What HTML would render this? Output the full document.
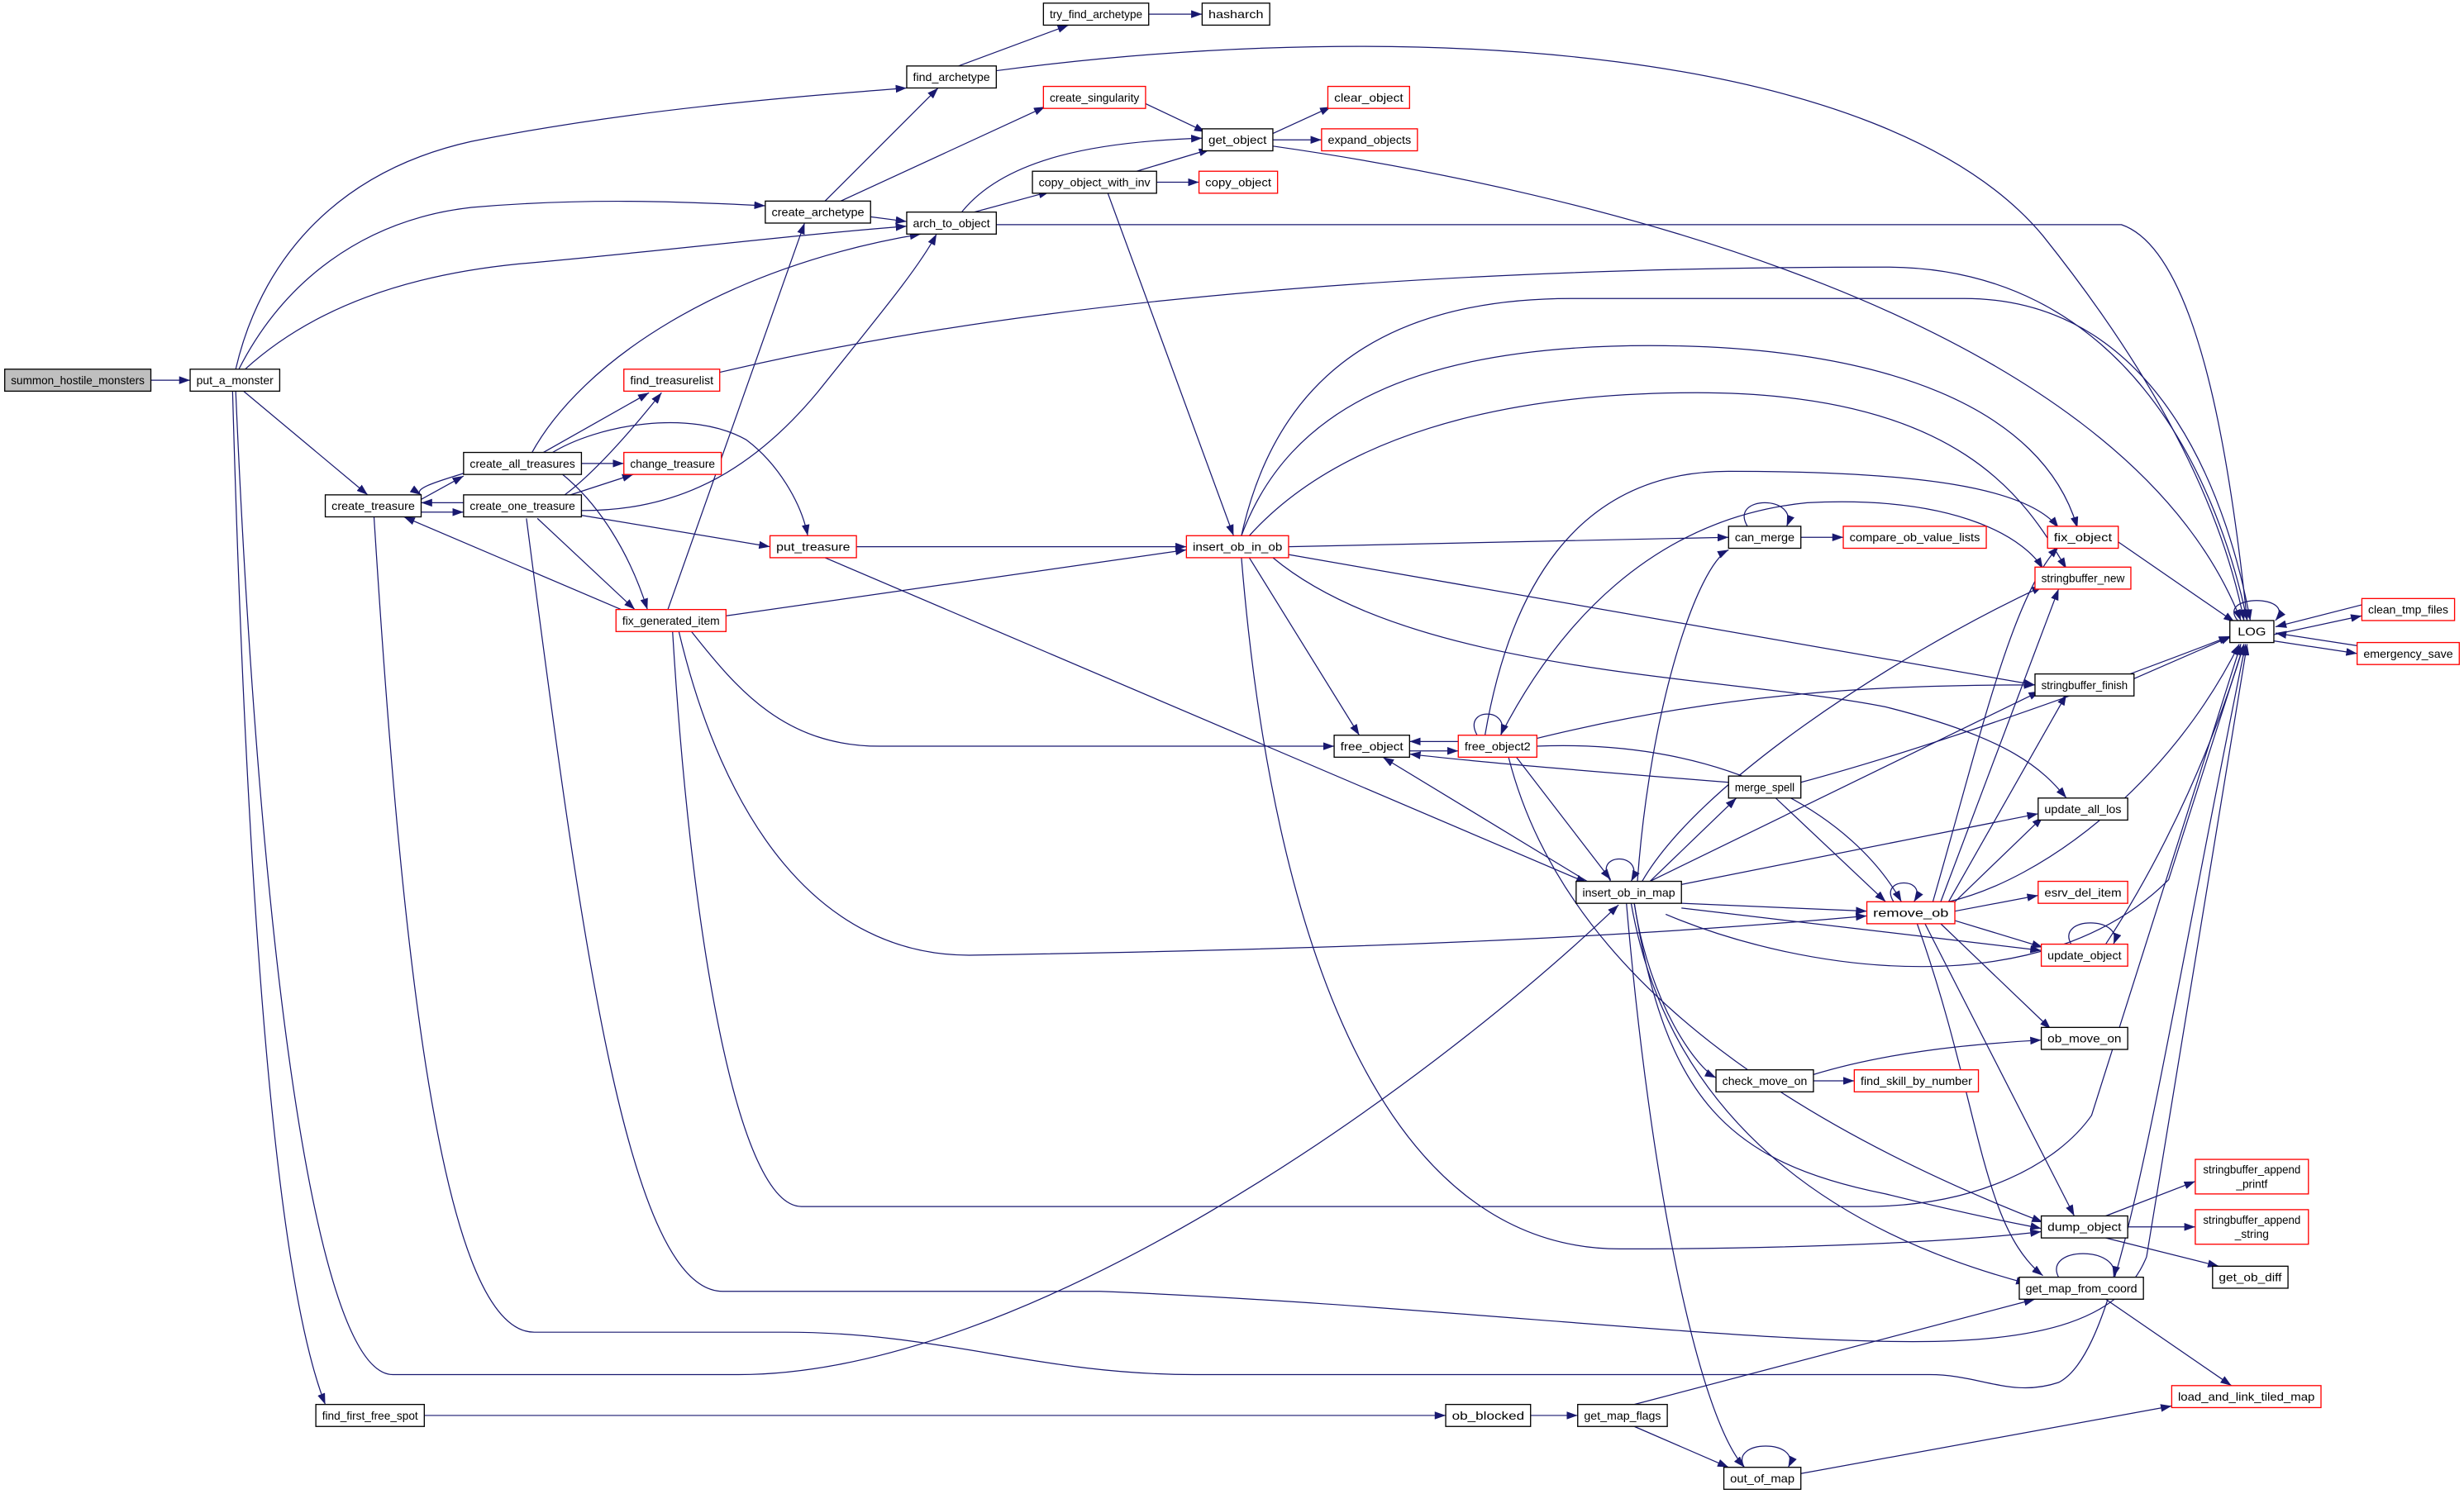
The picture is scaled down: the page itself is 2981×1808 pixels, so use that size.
<!DOCTYPE html>
<html><head><meta charset="utf-8"><style>
html,body{margin:0;padding:0;background:#fff;}
svg{display:block;}
text{font-family:"Liberation Sans",sans-serif;font-size:7.2px;fill:#000;text-anchor:middle;}
.b{fill:#fff;stroke:#000;stroke-width:0.7;}
.r{fill:#fff;stroke:#ff0000;stroke-width:0.7;}
.e{fill:none;stroke:#191970;stroke-width:0.65;marker-end:url(#a);}
</style></head><body>
<svg width="2981" height="1808" viewBox="0 0 1568 951" preserveAspectRatio="none" xmlns="http://www.w3.org/2000/svg">
<defs><marker id="a" markerWidth="7" markerHeight="5" refX="7" refY="2.5" orient="auto" markerUnits="userSpaceOnUse"><path d="M0,0 L7,2.5 L0,5 z" fill="#191970"/></marker></defs>
<g>
<path class="e" d="M96,242 H121"/>
<path class="e" d="M150,235 C165,170 210,110 300,90 C400,70 500,62 577,56"/>
<path class="e" d="M152,235 C180,180 230,140 300,132 C370,126 430,128 487,131"/>
<path class="e" d="M156,235 C200,195 260,175 330,168 C420,160 500,150 577,144"/>
<path class="e" d="M155,249 L234,315"/>
<path class="e" d="M148,249 C155,500 170,800 207,894"/>
<path class="e" d="M150,249 C165,600 200,875 250,875 L470,875 C650,875 900,700 1030,576"/>
<path class="e" d="M238,329 C255,600 280,848 340,848 L500,848 C600,848 660,875 760,875 L1228,875 C1260,875 1280,890 1310,880 C1350,860 1370,700 1429,410"/>
<path class="e" d="M335,330 C370,600 400,822 460,822 L700,822 C900,830 1100,854 1217,854 C1300,854 1350,840 1366,800 L1430,410"/>
<path class="e" d="M428,402 C440,600 470,768 510,768 L1187,768 C1260,768 1310,740 1331,710 L1426,410"/>
<path class="e" d="M266,319 L295,303"/>
<path class="e" d="M296,301 C280,306 262,311 268,315"/>
<path class="e" d="M268,326 H295"/>
<path class="e" d="M295,320 H268"/>
<path class="e" d="M344,289 L413,250"/>
<path class="e" d="M358,316 C380,300 405,270 421,250"/>
<path class="e" d="M370,295 H397"/>
<path class="e" d="M360,316 L403,302"/>
<path class="e" d="M350,289 C380,270 440,260 475,280 C495,295 510,320 514,341"/>
<path class="e" d="M370,328 L490,348"/>
<path class="e" d="M370,325 C420,325 470,310 520,250 C560,200 585,170 596,149"/>
<path class="e" d="M338,289 C370,230 460,170 586,149"/>
<path class="e" d="M358,302 C380,320 400,350 412,388"/>
<path class="e" d="M342,330 L404,388"/>
<path class="e" d="M400,390 L257,329"/>
<path class="e" d="M425,388 L512,142"/>
<path class="e" d="M462,392 L755,350"/>
<path class="e" d="M440,402 C470,440 500,475 560,475 L849,475"/>
<path class="e" d="M432,402 C460,520 520,610 620,608 C800,605 1000,600 1188,583"/>
<path class="e" d="M545,348 H755"/>
<path class="e" d="M525,355 L1010,562"/>
<path class="e" d="M525,128 L597,56"/>
<path class="e" d="M535,128 L665,68"/>
<path class="e" d="M554,138 L577,141"/>
<path class="e" d="M610,42 L680,16"/>
<path class="e" d="M731,9 H765"/>
<path class="e" d="M634,45 C900,10 1200,30 1300,150 C1380,250 1415,330 1428,395"/>
<path class="e" d="M729,66 L767,84"/>
<path class="e" d="M612,135 C640,100 700,90 765,88"/>
<path class="e" d="M620,135 L668,122"/>
<path class="e" d="M720,110 L770,95"/>
<path class="e" d="M736,116 H763"/>
<path class="e" d="M705,123 L785,341"/>
<path class="e" d="M810,85 L847,68"/>
<path class="e" d="M810,89 H841"/>
<path class="e" d="M810,93 C1000,120 1350,200 1426,395"/>
<path class="e" d="M634,143 H1350 C1400,160 1420,300 1430,395"/>
<path class="e" d="M458,237 C700,180 1000,170 1200,170 C1350,170 1410,300 1430,395"/>
<path class="e" d="M790,341 C810,250 870,190 1000,190 L1250,190 C1380,190 1420,330 1432,395"/>
<path class="e" d="M790,341 C820,260 900,220 1050,220 C1200,220 1300,260 1322,336"/>
<path class="e" d="M795,341 C850,280 950,250 1080,250 C1250,250 1290,320 1315,362"/>
<path class="e" d="M820,348 L1100,342"/>
<path class="e" d="M820,353 L1295,436"/>
<path class="e" d="M810,355 C900,430 1100,430 1200,450 C1280,470 1300,490 1315,508"/>
<path class="e" d="M795,355 L865,468"/>
<path class="e" d="M790,355 C810,600 880,795 1031,795 C1150,795 1250,790 1299,784"/>
<path class="e" d="M1112,335 C1100,315 1145,315 1137,335"/>
<path class="e" d="M1146,342 H1173"/>
<path class="e" d="M928,472 H897"/>
<path class="e" d="M897,478 H928"/>
<path class="e" d="M940,468 C930,450 962,450 955,468"/>
<path class="e" d="M955,468 C990,400 1050,330 1150,320 C1250,315 1290,345 1300,362"/>
<path class="e" d="M945,468 C960,380 1000,300 1100,300 C1220,300 1290,310 1310,336"/>
<path class="e" d="M978,470 C1100,440 1200,436 1295,436"/>
<path class="e" d="M978,475 C1100,470 1180,520 1210,574"/>
<path class="e" d="M965,482 L1025,560"/>
<path class="e" d="M960,482 C990,600 1100,700 1300,778"/>
<path class="e" d="M1100,498 C1000,490 940,485 897,480"/>
<path class="e" d="M1146,498 C1250,470 1380,420 1419,405"/>
<path class="e" d="M1130,508 L1200,574"/>
<path class="e" d="M1050,561 L1105,508"/>
<path class="e" d="M1042,561 C1050,450 1080,360 1100,350"/>
<path class="e" d="M1010,561 L880,482"/>
<path class="e" d="M1025,561 C1012,542 1048,542 1038,561"/>
<path class="e" d="M1045,561 C1080,500 1200,420 1300,373"/>
<path class="e" d="M1050,561 L1298,440"/>
<path class="e" d="M1070,563 L1297,518"/>
<path class="e" d="M1070,575 L1188,580"/>
<path class="e" d="M1070,578 L1299,605"/>
<path class="e" d="M1060,582 C1150,620 1300,640 1380,560 L1428,410"/>
<path class="e" d="M1040,575 C1050,640 1080,680 1092,686"/>
<path class="e" d="M1040,575 C1060,700 1100,740 1200,760 C1260,775 1290,780 1299,782"/>
<path class="e" d="M1038,575 C1060,700 1150,780 1290,817"/>
<path class="e" d="M1035,575 C1050,750 1080,900 1110,934"/>
<path class="e" d="M1230,574 C1260,470 1280,380 1310,348"/>
<path class="e" d="M1235,574 L1310,375"/>
<path class="e" d="M1240,574 L1315,442"/>
<path class="e" d="M1244,574 L1300,520"/>
<path class="e" d="M1244,580 L1297,570"/>
<path class="e" d="M1244,586 L1300,603"/>
<path class="e" d="M1240,574 C1300,560 1380,500 1425,410"/>
<path class="e" d="M1205,574 C1195,558 1228,558 1218,574"/>
<path class="e" d="M1235,588 L1305,655"/>
<path class="e" d="M1225,588 L1320,774"/>
<path class="e" d="M1220,588 C1260,700 1260,780 1300,812"/>
<path class="e" d="M1318,601 C1308,583 1352,583 1345,601"/>
<path class="e" d="M1340,601 C1380,540 1410,470 1428,410"/>
<path class="e" d="M1154,684 C1200,670 1250,665 1299,662"/>
<path class="e" d="M1154,688 H1180"/>
<path class="e" d="M1340,774 L1397,752"/>
<path class="e" d="M1354,781 H1397"/>
<path class="e" d="M1340,788 L1412,806"/>
<path class="e" d="M1310,813 C1300,793 1350,793 1345,813"/>
<path class="e" d="M1340,827 L1420,882"/>
<path class="e" d="M270,901 H920"/>
<path class="e" d="M974,901 H1004"/>
<path class="e" d="M1040,894 L1295,827"/>
<path class="e" d="M1040,908 L1100,934"/>
<path class="e" d="M1110,934 C1100,916 1147,916 1138,934"/>
<path class="e" d="M1146,938 L1382,895"/>
<path class="e" d="M1348,345 L1422,396"/>
<path class="e" d="M1358,432 L1420,405"/>
<path class="e" d="M1424,395 C1410,378 1462,378 1448,395"/>
<path class="e" d="M1447,404 L1503,392"/>
<path class="e" d="M1503,385 L1448,399"/>
<path class="e" d="M1447,408 L1500,416"/>
<path class="e" d="M1500,411 L1448,403"/>
</g>
<g>
<rect x="3" y="235" width="93" height="14" fill="#bfbfbf" stroke="#000" stroke-width="0.7"/><text x="49.5" y="244.6" textLength="85" lengthAdjust="spacingAndGlyphs">summon_hostile_monsters</text>
<rect class="b" x="121" y="235" width="57" height="14"/><text x="149.5" y="244.6" textLength="49" lengthAdjust="spacingAndGlyphs">put_a_monster</text>
<rect class="b" x="664" y="2" width="67" height="14"/><text x="697.5" y="11.6" textLength="59" lengthAdjust="spacingAndGlyphs">try_find_archetype</text>
<rect class="b" x="765" y="2" width="43" height="14"/><text x="786.5" y="11.6" textLength="35" lengthAdjust="spacingAndGlyphs">hasharch</text>
<rect class="b" x="577" y="42" width="57" height="14"/><text x="605.5" y="51.6" textLength="49" lengthAdjust="spacingAndGlyphs">find_archetype</text>
<rect class="r" x="664" y="55" width="65" height="14"/><text x="696.5" y="64.6" textLength="57" lengthAdjust="spacingAndGlyphs">create_singularity</text>
<rect class="r" x="845" y="55" width="52" height="14"/><text x="871" y="64.6" textLength="44" lengthAdjust="spacingAndGlyphs">clear_object</text>
<rect class="b" x="765" y="82" width="45" height="14"/><text x="787.5" y="91.6" textLength="37" lengthAdjust="spacingAndGlyphs">get_object</text>
<rect class="r" x="841" y="82" width="61" height="14"/><text x="871.5" y="91.6" textLength="53" lengthAdjust="spacingAndGlyphs">expand_objects</text>
<rect class="b" x="487" y="128" width="67" height="14"/><text x="520.5" y="137.6" textLength="59" lengthAdjust="spacingAndGlyphs">create_archetype</text>
<rect class="b" x="657" y="109" width="79" height="14"/><text x="696.5" y="118.6" textLength="71" lengthAdjust="spacingAndGlyphs">copy_object_with_inv</text>
<rect class="r" x="763" y="109" width="50" height="14"/><text x="788" y="118.6" textLength="42" lengthAdjust="spacingAndGlyphs">copy_object</text>
<rect class="b" x="577" y="135" width="57" height="14"/><text x="605.5" y="144.6" textLength="49" lengthAdjust="spacingAndGlyphs">arch_to_object</text>
<rect class="r" x="397" y="235" width="61" height="14"/><text x="427.5" y="244.6" textLength="53" lengthAdjust="spacingAndGlyphs">find_treasurelist</text>
<rect class="b" x="295" y="288" width="75" height="14"/><text x="332.5" y="297.6" textLength="67" lengthAdjust="spacingAndGlyphs">create_all_treasures</text>
<rect class="r" x="397" y="288" width="62" height="14"/><text x="428" y="297.6" textLength="54" lengthAdjust="spacingAndGlyphs">change_treasure</text>
<rect class="b" x="207" y="315" width="61" height="14"/><text x="237.5" y="324.6" textLength="53" lengthAdjust="spacingAndGlyphs">create_treasure</text>
<rect class="b" x="295" y="315" width="75" height="14"/><text x="332.5" y="324.6" textLength="67" lengthAdjust="spacingAndGlyphs">create_one_treasure</text>
<rect class="r" x="490" y="341" width="55" height="14"/><text x="517.5" y="350.6" textLength="47" lengthAdjust="spacingAndGlyphs">put_treasure</text>
<rect class="r" x="755" y="341" width="65" height="14"/><text x="787.5" y="350.6" textLength="57" lengthAdjust="spacingAndGlyphs">insert_ob_in_ob</text>
<rect class="r" x="392" y="388" width="70" height="14"/><text x="427" y="397.6" textLength="62" lengthAdjust="spacingAndGlyphs">fix_generated_item</text>
<rect class="b" x="1100" y="335" width="46" height="14"/><text x="1123" y="344.6" textLength="38" lengthAdjust="spacingAndGlyphs">can_merge</text>
<rect class="r" x="1173" y="335" width="91" height="14"/><text x="1218.5" y="344.6" textLength="83" lengthAdjust="spacingAndGlyphs">compare_ob_value_lists</text>
<rect class="r" x="1303" y="335" width="45" height="14"/><text x="1325.5" y="344.6" textLength="37" lengthAdjust="spacingAndGlyphs">fix_object</text>
<rect class="r" x="1295" y="361" width="61" height="14"/><text x="1325.5" y="370.6" textLength="53" lengthAdjust="spacingAndGlyphs">stringbuffer_new</text>
<rect class="b" x="1419" y="395" width="28" height="14"/><text x="1433" y="404.6" textLength="18" lengthAdjust="spacingAndGlyphs">LOG</text>
<rect class="r" x="1503" y="381" width="59" height="14"/><text x="1532.5" y="390.6" textLength="51" lengthAdjust="spacingAndGlyphs">clean_tmp_files</text>
<rect class="r" x="1500" y="409" width="65" height="14"/><text x="1532.5" y="418.6" textLength="57" lengthAdjust="spacingAndGlyphs">emergency_save</text>
<rect class="b" x="1295" y="429" width="63" height="14"/><text x="1326.5" y="438.6" textLength="55" lengthAdjust="spacingAndGlyphs">stringbuffer_finish</text>
<rect class="b" x="849" y="468" width="48" height="14"/><text x="873" y="477.6" textLength="40" lengthAdjust="spacingAndGlyphs">free_object</text>
<rect class="r" x="928" y="468" width="50" height="14"/><text x="953" y="477.6" textLength="42" lengthAdjust="spacingAndGlyphs">free_object2</text>
<rect class="b" x="1100" y="494" width="46" height="14"/><text x="1123" y="503.6" textLength="38" lengthAdjust="spacingAndGlyphs">merge_spell</text>
<rect class="b" x="1297" y="508" width="57" height="14"/><text x="1325.5" y="517.6" textLength="49" lengthAdjust="spacingAndGlyphs">update_all_los</text>
<rect class="b" x="1003" y="561" width="67" height="14"/><text x="1036.5" y="570.6" textLength="59" lengthAdjust="spacingAndGlyphs">insert_ob_in_map</text>
<rect class="r" x="1188" y="574" width="56" height="14"/><text x="1216" y="583.6" textLength="48" lengthAdjust="spacingAndGlyphs">remove_ob</text>
<rect class="r" x="1297" y="561" width="57" height="14"/><text x="1325.5" y="570.6" textLength="49" lengthAdjust="spacingAndGlyphs">esrv_del_item</text>
<rect class="r" x="1299" y="601" width="55" height="14"/><text x="1326.5" y="610.6" textLength="47" lengthAdjust="spacingAndGlyphs">update_object</text>
<rect class="b" x="1299" y="654" width="55" height="14"/><text x="1326.5" y="663.6" textLength="47" lengthAdjust="spacingAndGlyphs">ob_move_on</text>
<rect class="b" x="1092" y="681" width="62" height="14"/><text x="1123" y="690.6" textLength="54" lengthAdjust="spacingAndGlyphs">check_move_on</text>
<rect class="r" x="1180" y="681" width="79" height="14"/><text x="1219.5" y="690.6" textLength="71" lengthAdjust="spacingAndGlyphs">find_skill_by_number</text>
<rect class="r" x="1397" y="738" width="72" height="22"/><text x="1433" y="747" textLength="62" lengthAdjust="spacingAndGlyphs">stringbuffer_append</text><text x="1433" y="756">_printf</text>
<rect class="r" x="1397" y="770" width="72" height="22"/><text x="1433" y="779" textLength="62" lengthAdjust="spacingAndGlyphs">stringbuffer_append</text><text x="1433" y="788">_string</text>
<rect class="b" x="1299" y="774" width="55" height="14"/><text x="1326.5" y="783.6" textLength="47" lengthAdjust="spacingAndGlyphs">dump_object</text>
<rect class="b" x="1408" y="806" width="48" height="14"/><text x="1432" y="815.6" textLength="40" lengthAdjust="spacingAndGlyphs">get_ob_diff</text>
<rect class="b" x="1285" y="813" width="79" height="14"/><text x="1324.5" y="822.6" textLength="71" lengthAdjust="spacingAndGlyphs">get_map_from_coord</text>
<rect class="r" x="1382" y="882" width="95" height="14"/><text x="1429.5" y="891.6" textLength="87" lengthAdjust="spacingAndGlyphs">load_and_link_tiled_map</text>
<rect class="b" x="201" y="894" width="69" height="14"/><text x="235.5" y="903.6" textLength="61" lengthAdjust="spacingAndGlyphs">find_first_free_spot</text>
<rect class="b" x="920" y="894" width="54" height="14"/><text x="947" y="903.6" textLength="46" lengthAdjust="spacingAndGlyphs">ob_blocked</text>
<rect class="b" x="1004" y="894" width="57" height="14"/><text x="1032.5" y="903.6" textLength="49" lengthAdjust="spacingAndGlyphs">get_map_flags</text>
<rect class="b" x="1097" y="934" width="49" height="14"/><text x="1121.5" y="943.6" textLength="41" lengthAdjust="spacingAndGlyphs">out_of_map</text>
</g>
</svg>
</body></html>
